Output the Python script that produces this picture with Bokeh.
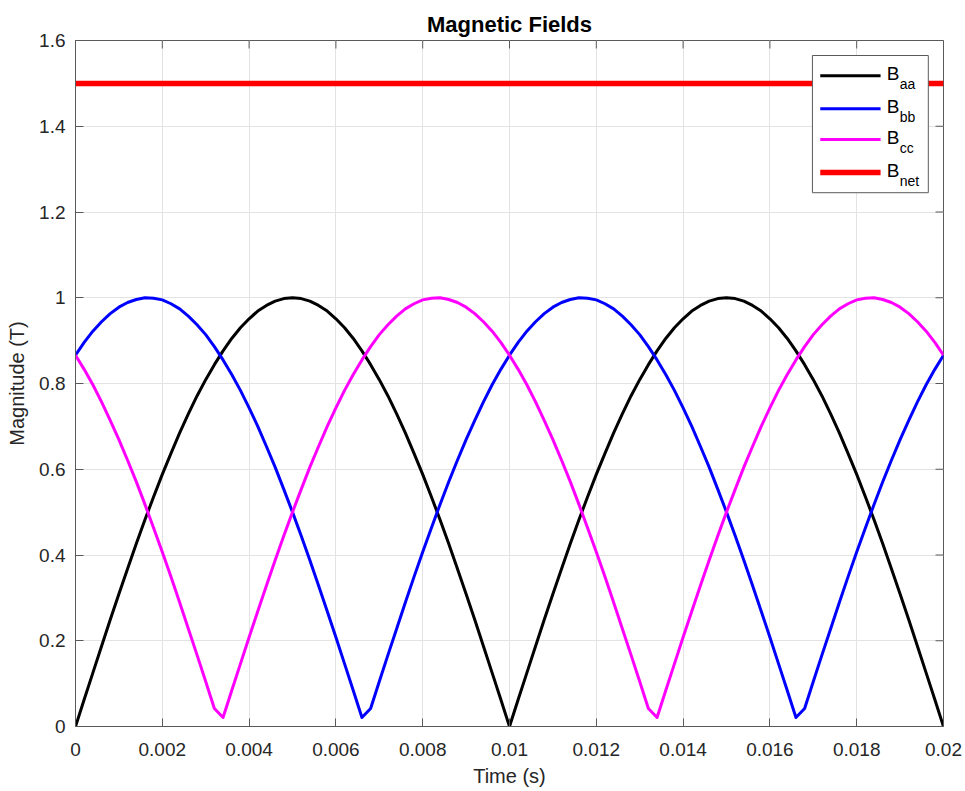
from bokeh.plotting import figure
from bokeh.models import Range1d, FixedTicker, BoxAnnotation, Label
from bokeh.embed import file_html
from bokeh.resources import INLINE

# ---------------- data ----------------
time_s = [
    0.0000, 0.0002, 0.0004, 0.0006, 0.0008, 0.0010, 0.0012, 0.0014, 0.0016, 0.0018,
    0.0020, 0.0022, 0.0024, 0.0026, 0.0028, 0.0030, 0.0032, 0.0034, 0.0036, 0.0038,
    0.0040, 0.0042, 0.0044, 0.0046, 0.0048, 0.0050, 0.0052, 0.0054, 0.0056, 0.0058,
    0.0060, 0.0062, 0.0064, 0.0066, 0.0068, 0.0070, 0.0072, 0.0074, 0.0076, 0.0078,
    0.0080, 0.0082, 0.0084, 0.0086, 0.0088, 0.0090, 0.0092, 0.0094, 0.0096, 0.0098,
    0.0100, 0.0102, 0.0104, 0.0106, 0.0108, 0.0110, 0.0112, 0.0114, 0.0116, 0.0118,
    0.0120, 0.0122, 0.0124, 0.0126, 0.0128, 0.0130, 0.0132, 0.0134, 0.0136, 0.0138,
    0.0140, 0.0142, 0.0144, 0.0146, 0.0148, 0.0150, 0.0152, 0.0154, 0.0156, 0.0158,
    0.0160, 0.0162, 0.0164, 0.0166, 0.0168, 0.0170, 0.0172, 0.0174, 0.0176, 0.0178,
    0.0180, 0.0182, 0.0184, 0.0186, 0.0188, 0.0190, 0.0192, 0.0194, 0.0196, 0.0198,
    0.0200,
]

b_aa = [
    0.000, 0.063, 0.125, 0.187, 0.249, 0.309, 0.368, 0.426, 0.482, 0.536,
    0.588, 0.637, 0.685, 0.729, 0.771, 0.809, 0.844, 0.876, 0.905, 0.930,
    0.951, 0.969, 0.982, 0.992, 0.998, 1.000, 0.998, 0.992, 0.982, 0.969,
    0.951, 0.930, 0.905, 0.876, 0.844, 0.809, 0.771, 0.729, 0.685, 0.637,
    0.588, 0.536, 0.482, 0.426, 0.368, 0.309, 0.249, 0.187, 0.125, 0.063,
    0.000, 0.063, 0.125, 0.187, 0.249, 0.309, 0.368, 0.426, 0.482, 0.536,
    0.588, 0.637, 0.685, 0.729, 0.771, 0.809, 0.844, 0.876, 0.905, 0.930,
    0.951, 0.969, 0.982, 0.992, 0.998, 1.000, 0.998, 0.992, 0.982, 0.969,
    0.951, 0.930, 0.905, 0.876, 0.844, 0.809, 0.771, 0.729, 0.685, 0.637,
    0.588, 0.536, 0.482, 0.426, 0.368, 0.309, 0.249, 0.187, 0.125, 0.063,
    0.000,
]

b_bb = [
    0.866, 0.896, 0.922, 0.944, 0.963, 0.978, 0.989, 0.996, 1.000, 0.999,
    0.995, 0.986, 0.974, 0.957, 0.937, 0.914, 0.886, 0.855, 0.821, 0.784,
    0.743, 0.700, 0.653, 0.605, 0.553, 0.500, 0.445, 0.388, 0.329, 0.269,
    0.208, 0.146, 0.084, 0.021, 0.042, 0.105, 0.167, 0.228, 0.289, 0.349,
    0.407, 0.463, 0.518, 0.571, 0.621, 0.669, 0.714, 0.757, 0.797, 0.833,
    0.866, 0.896, 0.922, 0.944, 0.963, 0.978, 0.989, 0.996, 1.000, 0.999,
    0.995, 0.986, 0.974, 0.957, 0.937, 0.914, 0.886, 0.855, 0.821, 0.784,
    0.743, 0.700, 0.653, 0.605, 0.553, 0.500, 0.445, 0.388, 0.329, 0.269,
    0.208, 0.146, 0.084, 0.021, 0.042, 0.105, 0.167, 0.228, 0.289, 0.349,
    0.407, 0.463, 0.518, 0.571, 0.621, 0.669, 0.714, 0.757, 0.797, 0.833,
    0.866,
]

b_cc = [
    0.866, 0.833, 0.797, 0.757, 0.714, 0.669, 0.621, 0.571, 0.518, 0.463,
    0.407, 0.349, 0.289, 0.228, 0.167, 0.105, 0.042, 0.021, 0.084, 0.146,
    0.208, 0.269, 0.329, 0.388, 0.445, 0.500, 0.553, 0.605, 0.653, 0.700,
    0.743, 0.784, 0.821, 0.855, 0.886, 0.914, 0.937, 0.957, 0.974, 0.986,
    0.995, 0.999, 1.000, 0.996, 0.989, 0.978, 0.963, 0.944, 0.922, 0.896,
    0.866, 0.833, 0.797, 0.757, 0.714, 0.669, 0.621, 0.571, 0.518, 0.463,
    0.407, 0.349, 0.289, 0.228, 0.167, 0.105, 0.042, 0.021, 0.084, 0.146,
    0.208, 0.269, 0.329, 0.388, 0.445, 0.500, 0.553, 0.605, 0.653, 0.700,
    0.743, 0.784, 0.821, 0.855, 0.886, 0.914, 0.937, 0.957, 0.974, 0.986,
    0.995, 0.999, 1.000, 0.996, 0.989, 0.978, 0.963, 0.944, 0.922, 0.896,
    0.866,
]

net_time = [0.0, 0.02]
b_net = [1.5, 1.5]

x_ticks = [0.0, 0.002, 0.004, 0.006, 0.008, 0.01, 0.012, 0.014, 0.016, 0.018, 0.02]
x_tick_labels = ["0", "0.002", "0.004", "0.006", "0.008", "0.01",
                 "0.012", "0.014", "0.016", "0.018", "0.02"]
y_ticks = [0.0, 0.2, 0.4, 0.6, 0.8, 1.0, 1.2, 1.4, 1.6]
y_tick_labels = ["0", "0.2", "0.4", "0.6", "0.8", "1", "1.2", "1.4", "1.6"]

legend_subscripts = ["aa", "bb", "cc", "net"]
series_colors = ["#000000", "#0000ff", "#ff00ff", "#ff0000"]

# ---------------- styling ----------------
FONT = "Liberation Sans"
AX = "#262626"
AXLINE = "#5a5a5a"
GRID = "#e3e3e3"
X_MIN, X_MAX = 0.0, 0.02
Y_MIN, Y_MAX = 0.0, 1.6
FRAME_W, FRAME_H = 868.0, 686.0
px_x = (X_MAX - X_MIN) / FRAME_W
px_y = (Y_MAX - Y_MIN) / FRAME_H

p = figure(width=965, height=791, output_backend="svg", toolbar_location=None,
           x_range=Range1d(X_MIN, X_MAX), y_range=Range1d(Y_MIN, Y_MAX),
           min_border_left=75, min_border_right=22, min_border_top=40,
           min_border_bottom=65)

p.background_fill_color = "white"
p.border_fill_color = "white"
p.outline_line_color = AXLINE
p.outline_line_width = 1

p.title.text = "Magnetic Fields"
p.title.text_font = FONT
p.title.text_font_size = "22px"
p.title.text_font_style = "bold"
p.title.text_color = "#000000"
p.title.align = "center"
p.title.standoff = 7

for ax, ticks, labels in ((p.xaxis[0], x_ticks, x_tick_labels),
                          (p.yaxis[0], y_ticks, y_tick_labels)):
    ax.ticker = FixedTicker(ticks=ticks)
    ax.major_label_overrides = dict(zip(ticks, labels))
    ax.major_tick_in = 8
    ax.major_tick_out = 0
    ax.minor_tick_in = 0
    ax.minor_tick_out = 0
    ax.axis_line_color = AXLINE
    ax.major_tick_line_color = AXLINE
    ax.major_label_text_font = FONT
    ax.major_label_text_font_size = "19px"
    ax.major_label_text_color = AX
    ax.axis_label_text_font = FONT
    ax.axis_label_text_font_size = "20px"
    ax.axis_label_text_font_style = "normal"
    ax.axis_label_text_color = AX

p.xaxis.axis_label = "Time (s)"
p.yaxis.axis_label = "Magnitude (T)"
p.xaxis.major_label_standoff = 16
p.xaxis.axis_label_standoff = 6
p.yaxis.major_label_standoff = 10
p.yaxis.axis_label_standoff = 8

p.xgrid.ticker = FixedTicker(ticks=x_ticks)
p.ygrid.ticker = FixedTicker(ticks=y_ticks)
p.xgrid.grid_line_color = GRID
p.ygrid.grid_line_color = GRID
p.xgrid.grid_line_width = 1
p.ygrid.grid_line_width = 1

# inward ticks on the top and right edges of the box
tick_len = 8
p.segment(x0=x_ticks, y0=[Y_MAX] * len(x_ticks), x1=x_ticks,
          y1=[Y_MAX - tick_len * px_y] * len(x_ticks), line_color=AXLINE, line_width=1)
p.segment(x0=[X_MAX] * len(y_ticks), y0=y_ticks, x1=[X_MAX - tick_len * px_x] * len(y_ticks),
          y1=y_ticks, line_color=AXLINE, line_width=1)

# ---------------- series ----------------
for vals, col in zip([b_aa, b_bb, b_cc], series_colors[:3]):
    p.line(time_s, vals, line_color=col, line_width=3, line_join="round")
p.line(net_time, b_net, line_color=series_colors[3], line_width=5.5)

# ---------------- legend (manual, to allow subscripts) ----------------
leg_left, leg_right = 0.01698, 0.01965
leg_top, leg_bottom = 1.565, 1.245
row_y = [1.518, 1.441, 1.369, 1.292]
swatch_l, swatch_r = 0.01716, 0.01855
text_x = 0.01869

p.add_layout(BoxAnnotation(left=leg_left, right=leg_right, bottom=leg_bottom, top=leg_top,
                           fill_color="white", fill_alpha=1.0,
                           line_color=AXLINE, line_width=1, line_alpha=1.0))
for i, (sub, col, ry) in enumerate(zip(legend_subscripts, series_colors, row_y)):
    h = (5.5 if i == 3 else 3.0) * px_y / 2
    p.add_layout(BoxAnnotation(left=swatch_l, right=swatch_r, bottom=ry - h, top=ry + h,
                               fill_color=col, fill_alpha=1.0, line_color=None))
    p.add_layout(Label(x=text_x, y=ry, y_offset=2, text="B", text_font=FONT,
                       text_font_size="19px", text_color="#000000",
                       text_baseline="middle", text_align="left"))
    p.add_layout(Label(x=text_x, y=ry, x_offset=13, y_offset=-8, text=sub, text_font=FONT,
                       text_font_size="14px", text_color="#000000",
                       text_baseline="middle", text_align="left"))

open("out.html", "w").write(file_html(p, INLINE))
